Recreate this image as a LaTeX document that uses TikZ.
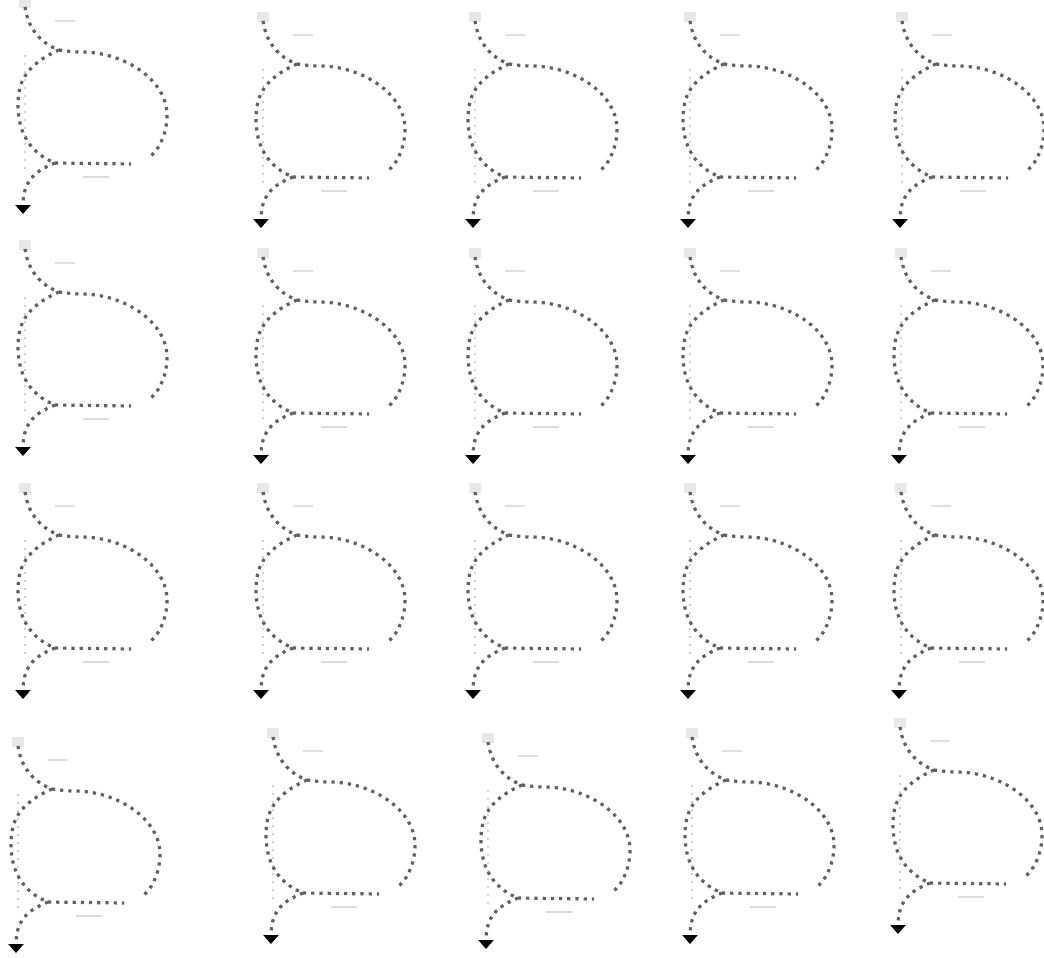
\documentclass[tikz,border=0pt]{standalone}
\usepackage{xcolor}
\usepackage{tikz}
\usetikzlibrary{arrows.meta}

\tikzset{
  trackdots/.style={draw=black!62, line width=3.2pt, dash pattern=on 3.2pt off 5pt},
  ghostdots/.style={draw=black!18, line width=1.6pt, dash pattern=on 2pt off 6pt},
  ghostmark/.style={fill=black!9},
}

\begin{document}
\begin{tikzpicture}[x=1pt,y=1pt,yscale=-1,xscale=1]
\path[use as bounding box] (0,0) rectangle (1044,958); %page is 1044 x 958

\foreach \px/\py [count=\i] in {25/3, 263/17, 475/17, 690/17, 902/17,
    25/245, 263/253, 475/253, 690/253, 901/253,
    25/488, 263/488, 475/488, 690/488, 901/488,
    18/742, 273/733, 488/738, 692/733, 900/723}
{
\begin{scope}[shift={(\px,\py)}]
% named points of one loop
\coordinate (s\i) at (0,4);
\coordinate (ja\i) at (34,47);
\coordinate (jb\i) at (30,160);
\coordinate (e\i) at (126,153);
\coordinate (b\i) at (106,161);
\coordinate (t\i) at (-2,211);

%Shape: start mark
\fill[ghostmark] (-6,-5) rectangle (6,5);
%Straight Lines: faint guide
\draw[ghostdots] (0,52) -- (0,168);
%Straight Lines: faint labels
\draw[black!12, line width=1.4pt] (30,18) -- (50,18);
\draw[black!14, line width=1.4pt] (58,174) -- (84,174);
%Curve: stem
\draw[trackdots] (s\i) .. controls (3,25) and (15,40) .. (ja\i);
%Curve: top and right side
\draw[trackdots] (ja\i) .. controls (42,48) and (48,49) .. (56,49) .. controls (101,49) and (142,78) .. (142,112) .. controls (142,128) and (136,144) .. (e\i);
%Curve: left side
\draw[trackdots] (ja\i) .. controls (0,62) and (-7,80) .. (-7,102) .. controls (-7,135) and (10,152) .. (jb\i);
%Straight Lines: bottom
\draw[trackdots] (jb\i) -- (b\i);
%Curve: tail
\draw[trackdots, -{Triangle[width=15pt,length=9pt,color=black,fill=black]}] (jb\i) .. controls (10,168) and (-2,178) .. (t\i);
\end{scope}
}
\end{tikzpicture}
\end{document}
